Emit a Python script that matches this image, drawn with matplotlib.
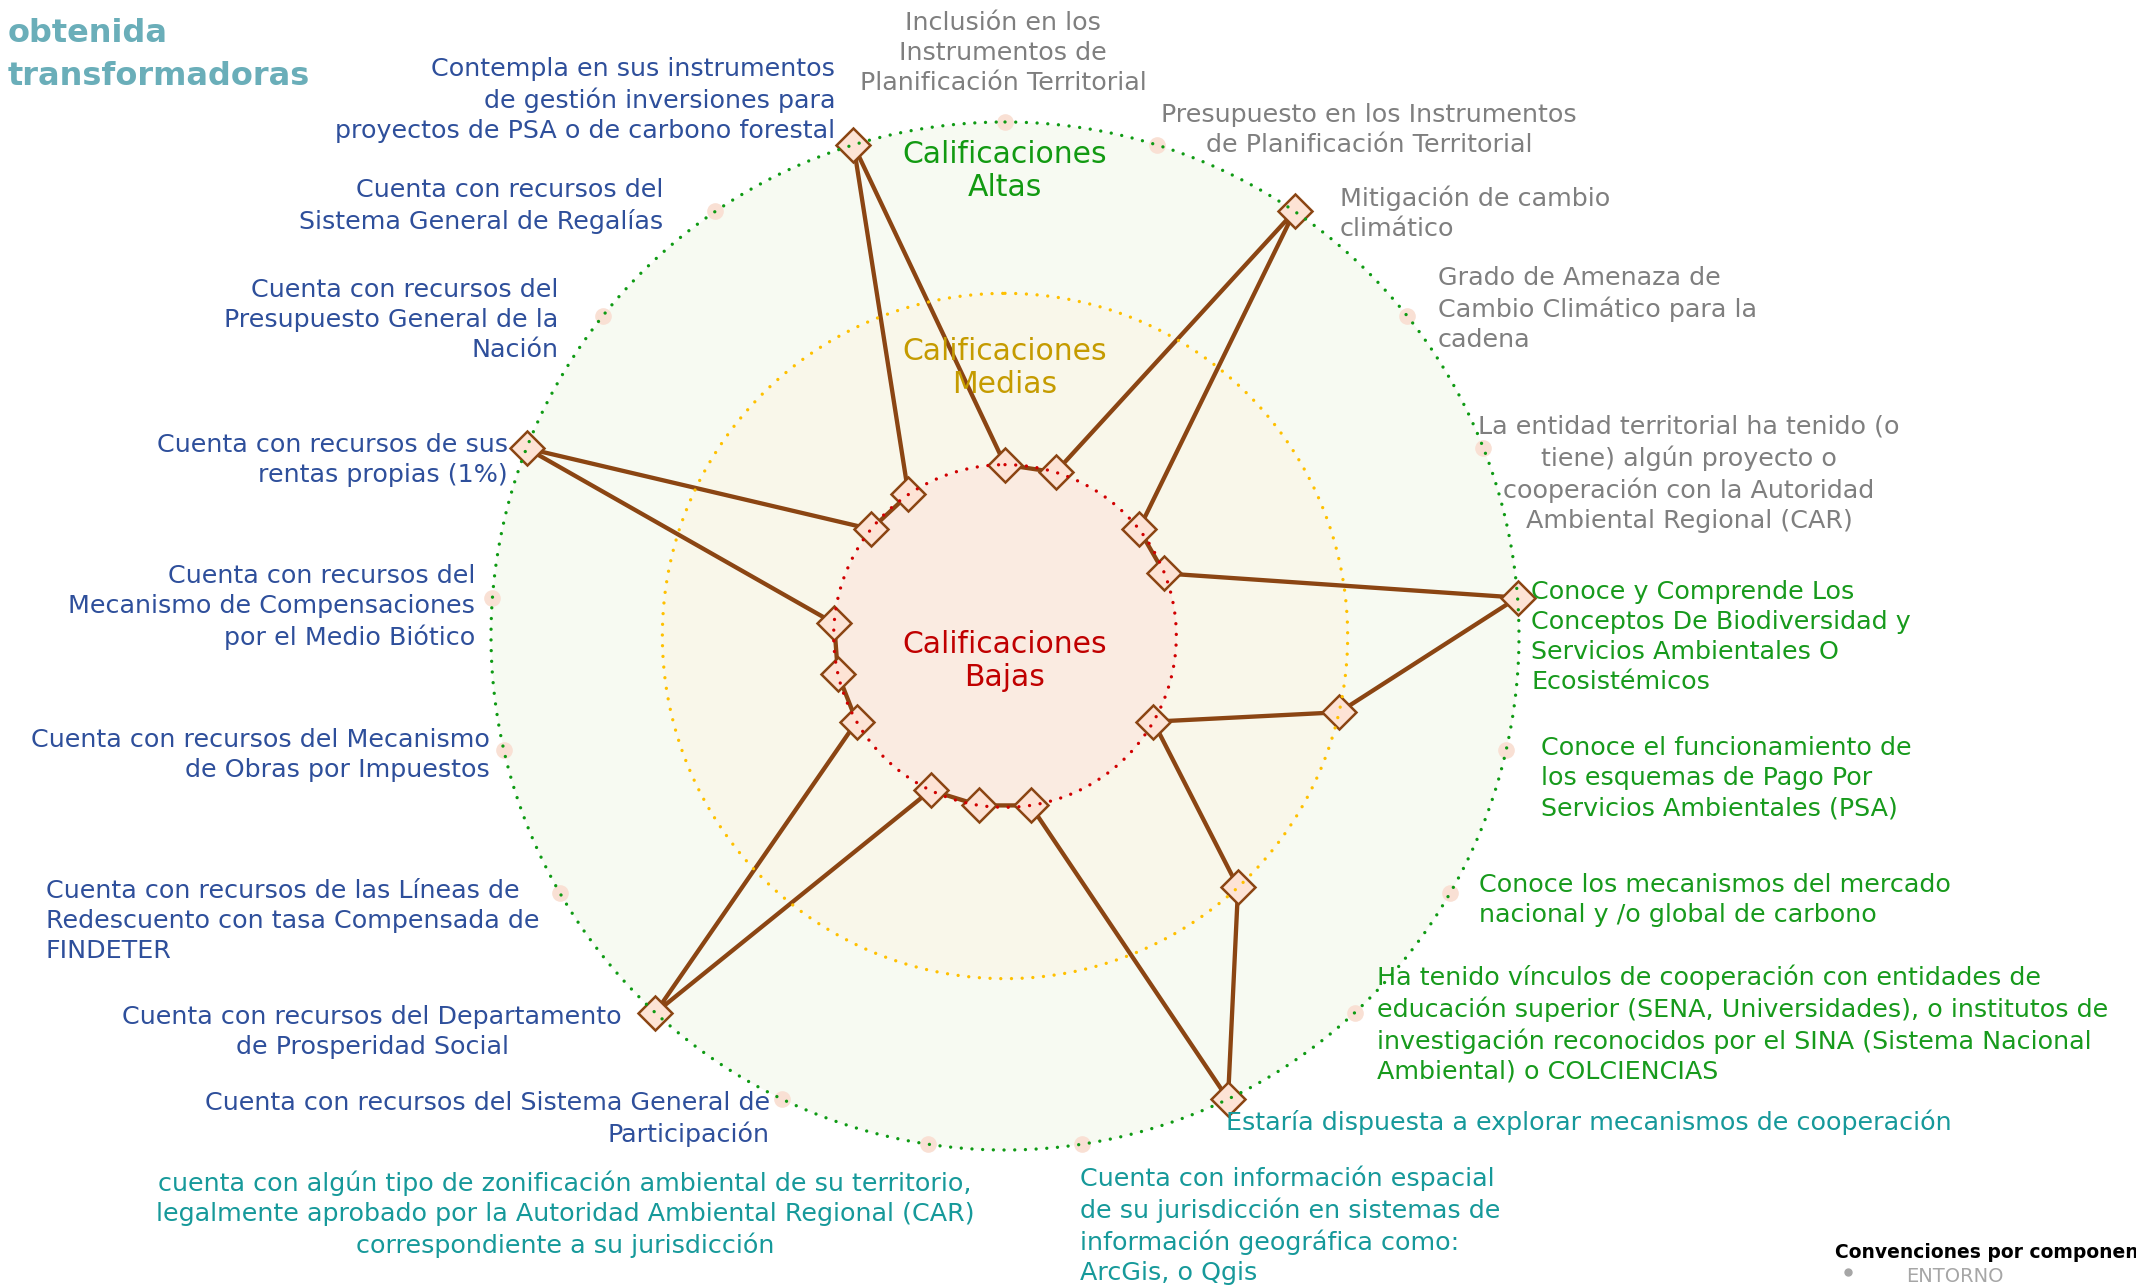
import numpy as np
import matplotlib
matplotlib.use("Agg")
import matplotlib.pyplot as plt

# ---------------- data ----------------
labels = [
    "Inclusión en los\nInstrumentos de\nPlanificación Territorial",
    "Presupuesto en los Instrumentos\nde Planificación Territorial",
    "Mitigación de cambio\nclimático",
    "Grado de Amenaza de\nCambio Climático para la\ncadena",
    "La entidad territorial ha tenido (o\ntiene) algún proyecto o\ncooperación con la Autoridad\nAmbiental Regional (CAR)",
    "Conoce y Comprende Los\nConceptos De Biodiversidad y\nServicios Ambientales O\nEcosistémicos",
    "Conoce el funcionamiento de\nlos esquemas de Pago Por\nServicios Ambientales (PSA)",
    "Conoce los mecanismos del mercado\nnacional y /o global de carbono",
    "Ha tenido vínculos de cooperación con entidades de\neducación superior (SENA, Universidades), o institutos de\ninvestigación reconocidos por el SINA (Sistema Nacional\nAmbiental) o COLCIENCIAS",
    "Estaría dispuesta a explorar mecanismos de cooperación",
    "Cuenta con información espacial\nde su jurisdicción en sistemas de\ninformación geográfica como:\nArcGis, o Qgis",
    "cuenta con algún tipo de zonificación ambiental de su territorio,\nlegalmente aprobado por la Autoridad Ambiental Regional (CAR)\ncorrespondiente a su jurisdicción",
    "Cuenta con recursos del Sistema General de\nParticipación",
    "Cuenta con recursos del Departamento\nde Prosperidad Social",
    "Cuenta con recursos de las Líneas de\nRedescuento con tasa Compensada de\nFINDETER",
    "Cuenta con recursos del Mecanismo\nde Obras por Impuestos",
    "Cuenta con recursos del\nMecanismo de Compensaciones\npor el Medio Biótico",
    "Cuenta con recursos de sus\nrentas propias (1%)",
    "Cuenta con recursos del\nPresupuesto General de la\nNación",
    "Cuenta con recursos del\nSistema General de Regalías",
    "Contempla en sus instrumentos\nde gestión inversiones para\nproyectos de PSA o de carbono forestal",
]
values = [1, 1, 3, 1, 1, 3, 2, 1, 2, 3, 1, 1, 1, 3, 1, 1, 1, 3, 1, 1, 3]
components = ["entorno"] * 5 + ["conocimiento"] * 4 + ["cooperacion"] * 3 + ["recursos"] * 9
component_colors = {
    "entorno": "#7f7f7f",
    "conocimiento": "#179a1c",
    "cooperacion": "#16999a",
    "recursos": "#2e4f9b",
}
levels = [1, 2, 3]
level_names = ["Calificaciones\nBajas", "Calificaciones\nMedias", "Calificaciones\nAltas"]
level_fill = ["#faebe1", "#f9f7ea", "#f7faf2"]
level_line = ["#d00000", "#ffc000", "#0f9a14"]
level_text = ["#c00000", "#c59b00", "#129a12"]
title_lines = "obtenida\ntransformadoras"
legend_title = "Convenciones por componente"
legend_item = "ENTORNO"

# ---------------- layout (pixel positions in 2136x1287 canvas) ----------------
W, H = 2136, 1287
label_pos = [
    (1003, 53, "center"), (1369, 130, "center"), (1340, 213, "left"),
    (1438, 309, "left"), (1689, 474, "center"), (1531, 637, "left"),
    (1541, 778, "left"), (1479, 900, "left"), (1377, 1024, "left"),
    (1226, 1122, "left"), (1080, 1225, "left"), (565, 1214, "center"),
    (770, 1119, "right"), (372, 1032, "center"), (46, 921, "left"),
    (490, 755, "right"), (475, 607, "right"), (508, 460, "right"),
    (558, 320, "right"), (663, 206, "right"), (835, 100, "right"),
]
level_text_y = [661, 368, 171]

fig = plt.figure(figsize=(W / 100, H / 100), dpi=100)
fig.patch.set_facecolor("white")

cx, cy, R = 1005, 636, 514
ax = fig.add_axes([(cx - R) / W, (H - cy - R) / H, 2 * R / W, 2 * R / H], projection="polar")
ax.set_theta_zero_location("N")
ax.set_theta_direction(-1)
ax.axis("off")
ax.set_ylim(0, levels[-1])

n = len(values)
angles = np.arange(n) * 2 * np.pi / n
th = np.linspace(0, 2 * np.pi, 721)

lower = 0
for lv, fc in zip(levels, level_fill):
    ax.fill_between(th, lower, lv, color=fc, lw=0, zorder=1)
    lower = lv

# label anchor dots on the outer ring
ax.plot(angles, [levels[-1]] * n, "o", ms=12, color="#f9e0d4", mec="none",
        zorder=2, clip_on=False)

# series
a_closed = np.append(angles, angles[0])
v_closed = np.append(values, values[0])
ax.plot(a_closed, v_closed, color="#8b4513", lw=3.1, zorder=3, clip_on=False,
        solid_joinstyle="round")
ax.plot(angles, values, "D", ms=17, mfc="#fde3d5", mec="#8b4513", mew=1.8,
        zorder=4, clip_on=False)

# dotted level circles
for lv, lc in zip(levels, level_line):
    ax.plot(th, np.full_like(th, lv), color=lc, lw=2.4, linestyle=(0, (0.01, 3.2)),
            dash_capstyle="round", zorder=5, clip_on=False)

font = "DejaVu Sans"
for name, col, y in zip(level_names, level_text, level_text_y):
    fig.text(cx / W, 1 - y / H, name, ha="center", va="center", color=col,
             fontsize=21.5, family=font, linespacing=1.2, zorder=6)

for lab, comp, (x, y, ha) in zip(labels, components, label_pos):
    fig.text(x / W, 1 - y / H, lab, ha=ha, va="center", multialignment=ha,
             color=component_colors[comp], fontsize=18.3, family=font, linespacing=1.32)

fig.text(8 / W, 1 - 55 / H, title_lines, ha="left", va="center", color="#6aaeb9",
         fontsize=23, fontweight="bold", family=font, linespacing=1.5)

fig.text(1835 / W, 1 - 1252 / H, legend_title, ha="left", va="center", color="black",
         fontsize=13.5, fontweight="bold", family=font)
fig.text(1906 / W, 1 - 1277 / H, legend_item, ha="left", va="center", color="#a6a6a6",
         fontsize=14, family=font)
fig.lines.append(plt.Line2D([1848 / W], [1 - 1272 / H], marker="o", ms=5,
                            color="#a6a6a6", transform=fig.transFigure))

fig.savefig("out.png", dpi=100)
